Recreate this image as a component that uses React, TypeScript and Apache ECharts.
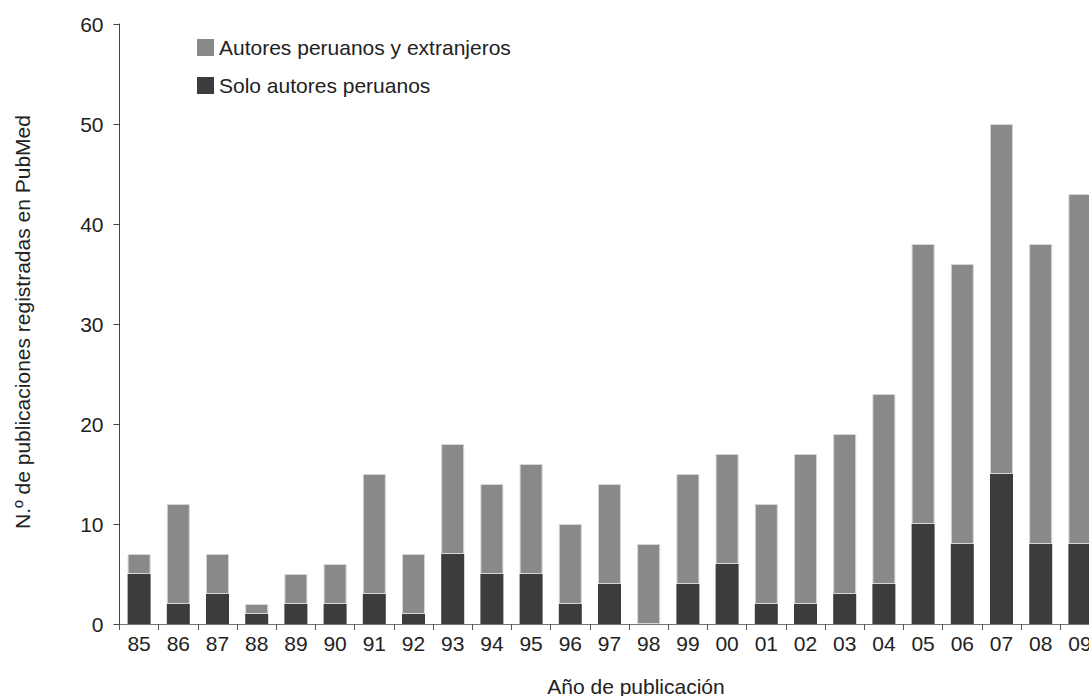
import React, { useEffect, useRef } from "react";
import * as echarts from "echarts";

const years = ["85","86","87","88","89","90","91","92","93","94","95","96","97","98","99","00","01","02","03","04","05","06","07","08","09"];
const soloPeruanos = [5,2,3,1,2,2,3,1,7,5,5,2,4,0,4,6,2,2,3,4,10,8,15,8,8];
const peruanosExtranjeros = [2,10,4,1,3,4,12,6,11,9,11,8,10,8,11,11,10,15,16,19,28,28,35,30,35];
const yTicks = { min: 0, max: 60, interval: 10 };

const FONT = "'Liberation Sans', Arial, Helvetica, sans-serif";
const DARK = "#3c3c3e";
const GREY = "#88898b";
const FS = 21;

export default function App() {
  const ref = useRef<HTMLDivElement>(null);
  useEffect(() => {
    if (!ref.current) return;
    const chart = echarts.init(ref.current, undefined, { renderer: "svg" });
    chart.setOption({
      animation: false,
      backgroundColor: "#ffffff",
      textStyle: { fontFamily: FONT },
      grid: { left: 119.5, right: 20.5, top: 24, bottom: 72, containLabel: false },
      legend: {
        orient: "vertical",
        left: 197,
        top: 37,
        padding: 0,
        itemWidth: 17,
        itemHeight: 17,
        itemGap: 17,
        itemTextGap: 6,
        icon: "rect",
        itemStyle: { borderWidth: 0 },
        data: ["Autores peruanos y extranjeros", "Solo autores peruanos"],
        textStyle: { fontFamily: FONT, fontSize: FS, color: "#222" },
      },
      xAxis: {
        type: "category",
        data: years,
        boundaryGap: true,
        axisLine: { lineStyle: { color: "#777", width: 1 } },
        axisTick: { show: true, alignWithLabel: false, length: 6, lineStyle: { color: "#555" } },
        axisLabel: { fontFamily: FONT, fontSize: FS, color: "#222", margin: 9, interval: 0 },
      },
      yAxis: {
        type: "value",
        min: yTicks.min,
        max: yTicks.max,
        interval: yTicks.interval,
        splitLine: { show: false },
        axisLine: { show: true, lineStyle: { color: "#444", width: 1 } },
        axisTick: { show: true, length: 6, lineStyle: { color: "#444" } },
        axisLabel: { fontFamily: FONT, fontSize: FS, color: "#222", margin: 16 },
      },
      graphic: [
        {
          type: "text",
          x: 22,
          y: 322,
          rotation: Math.PI / 2,
          style: {
            text: "N.º de publicaciones registradas en PubMed",
            fontFamily: FONT,
            fontSize: FS,
            fill: "#222",
            textAlign: "center",
            textVerticalAlign: "middle",
          },
        },
        {
          type: "text",
          x: 636,
          y: 686,
          style: {
            text: "Año de publicación",
            fontFamily: FONT,
            fontSize: FS,
            fill: "#222",
            textAlign: "center",
            textVerticalAlign: "middle",
          },
        },
      ],
      series: [
        {
          name: "Solo autores peruanos",
          type: "bar",
          stack: "total",
          barWidth: 23,
          data: soloPeruanos,
          itemStyle: { color: DARK },
        },
        {
          name: "Autores peruanos y extranjeros",
          type: "bar",
          stack: "total",
          barWidth: 23,
          data: peruanosExtranjeros,
          itemStyle: { color: GREY, borderColor: "#d6d6d6", borderWidth: 1 },
        },
      ],
    });
    return () => chart.dispose();
  }, []);
  return (
    <div style={{ position: "fixed", left: 0, top: 0, width: 1089, height: 696, overflow: "hidden", background: "#fff" }}>
      <div ref={ref} style={{ width: 1120, height: 696 }} />
    </div>
  );
}
